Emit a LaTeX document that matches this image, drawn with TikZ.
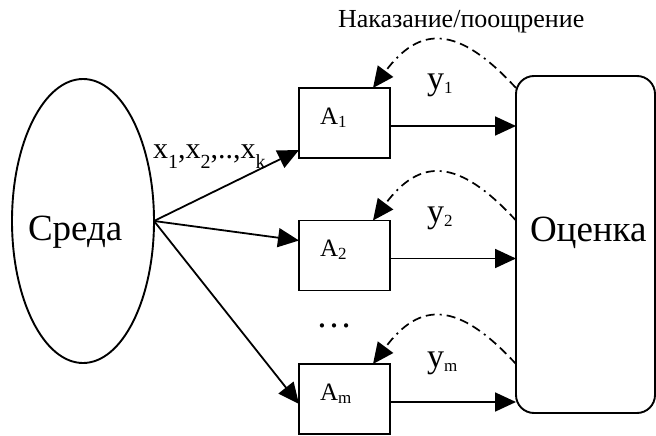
\documentclass[tikz,border=0pt]{standalone}
\usepackage{fontspec}
\setmainfont{Liberation Serif}
\usetikzlibrary{arrows.meta,shapes.geometric}
% lowered subscript: size, drop, text
\newcommand\lowsub[3]{\raisebox{-#2}{\fontsize{#1}{#1}\selectfont #3}}

\begin{document}
\begin{tikzpicture}[x=1pt,y=-1pt,
  every node/.style={inner sep=0pt, outer sep=0pt},
  outline/.style={draw=black, line width=1.9pt},
  agent/.style={outline, minimum width=91pt, minimum height=70pt},
  tip/.style={-{Triangle[length=21pt,width=19pt]}},
  flow/.style={line width=1.8pt, tip},
  feedback/.style={line width=1.7pt, tip,
    dash pattern=on 9pt off 5pt on 9pt off 5pt on 9pt off 5pt on 2pt off 5pt},
  bigtext/.style={anchor=base west, font=\fontsize{37}{40}\selectfont},
  agenttext/.style={anchor=base west, font=\fontsize{25}{28}\selectfont},
  outtext/.style={anchor=base west, font=\fontsize{34}{36}\selectfont},
]
\useasboundingbox (0,0) rectangle (656,436);

% environment and evaluator
\node[outline, ellipse, minimum width=142pt, minimum height=284pt] (sreda) at (83,221) {};
\node[bigtext] (sredatext) at (28,240) {Среда};
\node[outline, rounded corners=18pt, minimum width=139pt, minimum height=337pt] (eval) at (585.5,244.5) {};
\node[bigtext] (evaltext) at (530,241) {Оценка};

% agents
\node[agent] (a1) at (344.5,123) {};
\node[agent] (a2) at (344.5,255.5) {};
\node[agent] (am) at (344.5,399) {};
\node[agenttext] (a1t) at (320,124) {A\lowsub{17}{3pt}{1}};
\node[agenttext] (a2t) at (320,256) {A\lowsub{17}{3pt}{2}};
\node[agenttext] (amt) at (320,400) {A\lowsub{17}{3pt}{m}};
\node[anchor=base] (dots) at (334,327) {\fontsize{36}{36}\selectfont …};

% inputs
\node[anchor=base west, font=\fontsize{30}{32}\selectfont] (xs) at (153,158)
  {x\lowsub{20}{10pt}{1},x\lowsub{20}{10pt}{2},..,x\lowsub{20}{10pt}{k}};
\draw[flow] (sreda.east) -- ([yshift=8pt]a1.south west);
\draw[flow] (sreda.east) -- ([yshift=15pt]a2.west);
\draw[flow] (sreda.east) -- ([yshift=-5pt]am.west);

% outputs
\foreach \a in {a1,a2,am}{
  \coordinate (\a out) at ([yshift=-3pt]\a.east);
  \draw[flow] (\a out) -- (\a out -| eval.west);
}
\node[outtext] (y1) at (427,89) {y\lowsub{17}{4.5pt}{1}};
\node[outtext] (y2) at (427,222) {y\lowsub{17}{4.5pt}{2}};
\node[outtext] (ym) at (427,367) {y\lowsub{17}{4.5pt}{m}};

% reward / penalty feedback
\foreach \a in {a1,a2,am}{
  \coordinate (\a fb) at (\a.north -| eval.west);
  \coordinate (\a in) at ([xshift=-17pt]\a.north east);
  \draw[feedback] (\a fb) .. controls ([xshift=-58pt,yshift=63pt]\a fb)
    and ([xshift=47pt,yshift=63pt]\a in) .. (\a in);
}
\node[anchor=base west, font=\fontsize{26}{28}\selectfont] (fbtext) at (338,28) {Наказание/поощрение};
\end{tikzpicture}
\end{document}
